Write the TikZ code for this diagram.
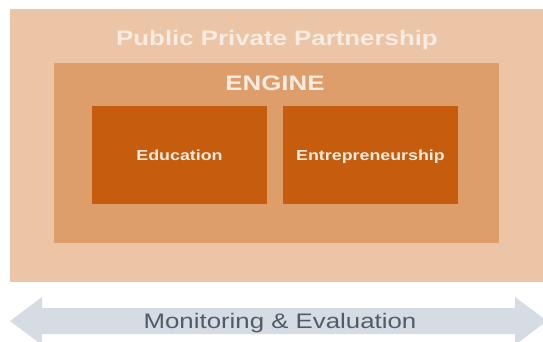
\documentclass[tikz,border=0pt]{standalone}
\usepackage{fontspec}
\setmainfont[FakeStretch=1.23]{Liberation Sans}
\usepackage{xcolor}
\usepackage{tikz}

\definecolor{durazno}{RGB}{235,197,166}
\definecolor{tostado}{RGB}{221,158,108}
\definecolor{naranja}{RGB}{197,92,14}
\definecolor{gris}{RGB}{214,220,228}
\definecolor{grisoscuro}{RGB}{82,92,104}
\definecolor{crema}{RGB}{248,236,226}

\begin{document}
\begin{tikzpicture}[x=1pt,y=-1pt]
      % Definición de estilos
      \tikzstyle{marco}=[fill=durazno, inner sep=0pt, minimum width=535pt, minimum height=273pt]
      \tikzstyle{motorbox}=[fill=tostado, inner sep=0pt, minimum width=445pt, minimum height=180pt]
      \tikzstyle{pilar}=[fill=naranja, text=crema, inner sep=0pt, minimum width=175pt, minimum height=98pt, text height=10.5pt, text depth=0pt, font=\bfseries\fontsize{14.5}{17}\selectfont]
      \tikzstyle{titulo}=[text=crema, anchor=base, inner sep=0pt, font=\bfseries\fontsize{21}{24}\selectfont]

      \useasboundingbox (0,0) rectangle (543,342);

      % Cajas
      \node[marco] (ppp) at (277.5,145.5) {};
      \node[motorbox] (engine) at (276.5,153) {};
      \node[pilar] (educacion) at (179.5,155) {Education};
      \node[pilar] (emprendimiento) at (370.5,155) {Entrepreneurship};

      % Títulos
      \node[titulo] (tppp) at (277,46) {Public Private Partnership};
      \node[titulo] (tengine) at (275,91) {ENGINE};

      % Flecha inferior
      \fill[gris] (10,321) -- (42,297) -- (42,308) -- (515,308) -- (515,297) -- (547,321)
        -- (515,345) -- (515,334) -- (42,334) -- (42,345) -- cycle;
      \node[text=grisoscuro, anchor=base, inner sep=0pt, font=\fontsize{21}{24}\selectfont] (monitoreo) at (280,328) {Monitoring \& Evaluation};
\end{tikzpicture}
\end{document}
